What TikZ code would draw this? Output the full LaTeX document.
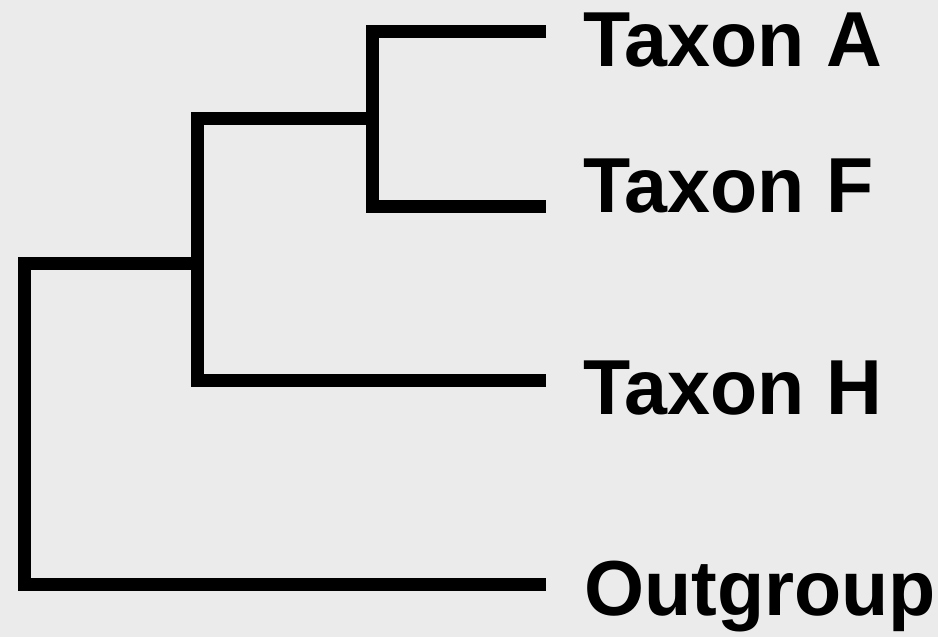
\documentclass[tikz,border=0pt]{standalone}
\usepackage{fontspec}
\usepackage{tikz}
\newfontfamily\taxfont{Liberation Sans}[FakeStretch=0.99]
\definecolor{bgGray}{RGB}{235,235,235}

\begin{document}
\begin{tikzpicture}[x=1pt,y=1pt,
    branch/.style={line width=13pt,line join=miter,line cap=butt,color=black},
    taxon/.style={anchor=base west,inner sep=0pt,
      font=\taxfont\bfseries\fontsize{78}{80}\selectfont}]
  \fill[color=bgGray] (0,0) rectangle (938,637);
  \useasboundingbox (0,0) rectangle (938,637);

  % tips and inner nodes
  \coordinate (tipA) at (546,605);
  \coordinate (tipF) at (546,430);
  \coordinate (tipH) at (546,256);
  \coordinate (tipOut) at (546,52);
  \coordinate (nAF) at (372,518);
  \coordinate (nAFH) at (197,373);
  \coordinate (nRoot) at (24,212);

  \draw[branch] (tipA) -| (nAF) |- (tipF);
  \draw[branch] (nAF) -| (nAFH) |- (tipH);
  \draw[branch] (nAFH) -| (nRoot) |- (tipOut);

  \node[taxon] (taxA) at (583,570) {Taxon A};
  \node[taxon] (taxF) at (583,424) {Taxon F};
  \node[taxon] (taxH) at (583,222) {Taxon H};
  \node[taxon] (taxOut) at (584,21) {Outgroup};
\end{tikzpicture}
\end{document}
